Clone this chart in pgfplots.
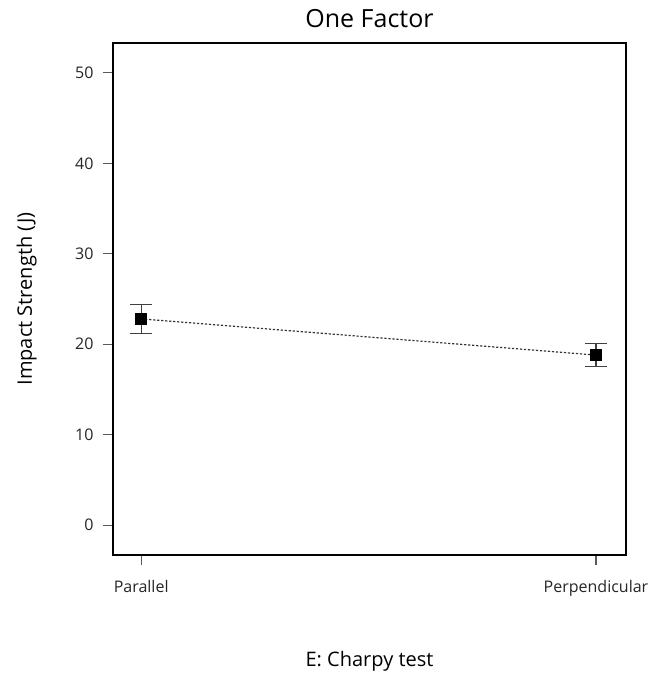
\documentclass[border=0pt]{standalone}
\usepackage{fontspec}
\setmainfont{Open Sans}
\usepackage{pgfplots}
\pgfplotsset{compat=1.18}
\definecolor{tickgray}{RGB}{90,90,90}
\begin{document}
\begin{tikzpicture}
\begin{axis}[
  at={(0,0)}, anchor=south west,
  width=513bp, height=512bp, scale only axis,
  xmin=-0.062, xmax=1.066, ymin=-3.3, ymax=53.3,
  xtick={0,1}, xticklabels={Parallel,Perpendicular},
  ytick={0,10,20,30,40,50},
  xtick pos=bottom, ytick pos=left,
  tick align=outside, major tick length=10bp,
  tick style={draw=tickgray, line width=1.1pt},
  axis line style={line width=1.1pt},
  /pgf/number format/assume math mode=true,
  ticklabel style={font=\fontsize{16bp}{19bp}\selectfont, text=black!85},
  yticklabel style={anchor=east, xshift=-6bp},
  xticklabel style={anchor=base, yshift=-27bp},
  title={One Factor},
  title style={font=\fontsize{25bp}{30bp}\selectfont, at={(axis description cs:0.5,1.0195)}, anchor=base},
  xlabel={E: Charpy test},
  xlabel style={font=\fontsize{20bp}{24bp}\selectfont, at={(axis description cs:0.5,-0.2168)}, anchor=base},
  ylabel={Impact Strength (J)},
  ylabel style={font=\fontsize{20bp}{24bp}\selectfont, at={(axis description cs:-0.158,0.5)}, anchor=base, rotate=0},
]
\addplot[dash pattern=on 2.2bp off 1.8bp, line width=1.2pt, black!80,
  mark=square*, mark size=5.5bp, mark options={solid, fill=black, draw=black},
  error bars/.cd, y dir=both, y explicit,
  error bar style={solid, line width=1.1pt, draw=black!75},
  error mark options={solid, rotate=90, mark size=11bp, line width=1.1pt, draw=black!75}]
coordinates {
  (0,22.8) +- (0,1.6)
  (1,18.8) +- (0,1.27)
};
\end{axis}
\pgfresetboundingbox
\path (-113bp,-118bp) rectangle (543bp,555bp);
\end{tikzpicture}
\end{document}
